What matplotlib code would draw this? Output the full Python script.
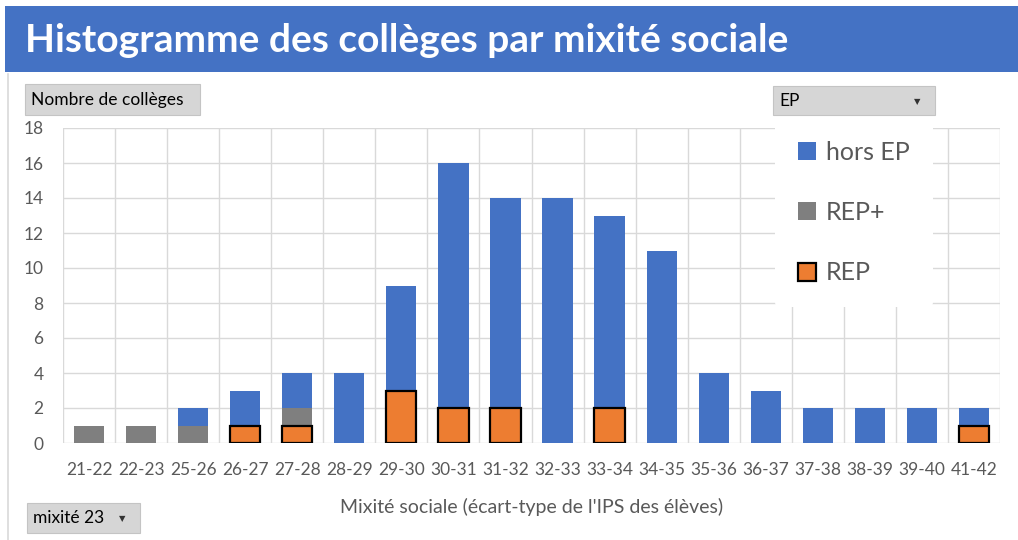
import matplotlib.pyplot as plt
import numpy as np
from matplotlib.patches import Rectangle

# Data
categories = ['21-22', '22-23', '25-26', '26-27', '27-28', '28-29', '29-30', '30-31', '31-32',
              '32-33', '33-34', '34-35', '35-36', '36-37', '37-38', '38-39', '39-40', '41-42']
rep = [0, 0, 0, 1, 1, 0, 3, 2, 2, 0, 2, 0, 0, 0, 0, 0, 0, 1]
rep_plus = [1, 1, 1, 0, 1, 0, 0, 0, 0, 0, 0, 0, 0, 0, 0, 0, 0, 0]
hors_ep = [0, 0, 1, 2, 2, 4, 6, 14, 12, 14, 11, 11, 4, 3, 2, 2, 2, 1]

BLUE = '#4472C4'
GRAY = '#7F7F7F'
ORANGE = '#ED7D31'
TXT = '#595959'
FONT = ['Lato', 'DejaVu Sans']

plt.rcParams['font.family'] = FONT

W, H = 1018, 540
fig = plt.figure(figsize=(W / 100, H / 100), dpi=100)


def fx(px):
    return px / W


def fy(py):
    return 1 - py / H


# title banner
fig.patches.append(Rectangle((fx(5), fy(72)), fx(1013), 66 / H, transform=fig.transFigure,
                             facecolor=BLUE, edgecolor='none'))
fig.text(fx(25), fy(40), 'Histogramme des collèges par mixité sociale', color='white',
         fontsize=28, fontweight='bold', va='center', ha='left')

# light frame at the left of the chart area
fig.add_artist(plt.Line2D([fx(8), fx(8)], [fy(74), fy(540)], transform=fig.transFigure,
                          color='#d9d9d9', lw=1.2))

# main axes
ax = fig.add_axes([fx(63), fy(443), (1000 - 63) / W, (443 - 128) / H])
x = np.arange(len(categories))
width = 0.58
rep = np.array(rep)
rep_plus = np.array(rep_plus)
hors_ep = np.array(hors_ep)

b_rep = ax.bar(x, rep, width, color=ORANGE, edgecolor='black', linewidth=1.6, zorder=3)
for patch, v in zip(b_rep, rep):
    if v == 0:
        patch.set_visible(False)
b_plus = ax.bar(x, rep_plus, width, bottom=rep, color=GRAY, zorder=2)
b_hors = ax.bar(x, hors_ep, width, bottom=rep + rep_plus, color=BLUE, zorder=2)

ax.set_xlim(-0.5, len(categories) - 0.5)
ax.set_ylim(0, 18)
ax.set_yticks(np.arange(0, 19, 2))
ax.set_xticks(x)
ax.set_xticklabels(categories)
ax.set_xticks(np.arange(-0.5, len(categories), 1), minor=True)
ax.grid(True, which='minor', axis='x', color='#d9d9d9', lw=1, zorder=0)
ax.grid(True, which='major', axis='y', color='#d9d9d9', lw=1, zorder=0)
ax.set_axisbelow(True)
for s in ax.spines.values():
    s.set_visible(False)
ax.tick_params(axis='both', which='both', length=0, colors=TXT, labelsize=12.5)
ax.tick_params(axis='y', pad=14)
ax.tick_params(axis='x', pad=14)
ax.set_xlabel("Mixité sociale (écart-type de l'IPS des élèves)", color=TXT, fontsize=14, labelpad=14)

h_hors = Rectangle((0, 0), 1, 1, facecolor=BLUE, edgecolor='none')
h_plus = Rectangle((0, 0), 1, 1, facecolor=GRAY, edgecolor='none')
h_rep = Rectangle((0, 0), 1, 1, facecolor=ORANGE, edgecolor='black', linewidth=1.6)
leg = fig.legend([h_hors, h_plus, h_rep], ['hors EP', 'REP+', 'REP'], loc='upper left',
                 bbox_to_anchor=(fx(775), fy(118)), frameon=True, fontsize=18,
                 labelspacing=1.5, handlelength=0.75, handleheight=0.75, handletextpad=0.4,
                 borderpad=0.9, borderaxespad=0)
leg.get_frame().set_facecolor('white')
leg.get_frame().set_edgecolor('none')
leg.get_frame().set_alpha(1)
for t in leg.get_texts():
    t.set_color(TXT)


# field buttons
def button(x0, y0, x1, y1, label, arrow=False):
    fig.patches.append(Rectangle((fx(x0), fy(y1)), fx(x1 - x0), (y1 - y0) / H,
                                 transform=fig.transFigure, facecolor='#d6d6d6',
                                 edgecolor='#c4c4c4', lw=0.8, zorder=5))
    fig.text(fx(x0 + 6), fy((y0 + y1) / 2), label, fontsize=12.5, color='black',
             va='center', ha='left', zorder=6)
    if arrow:
        fig.text(fx(x1 - 18), fy((y0 + y1) / 2 + 1), '▼', fontsize=6, color='#333333',
                 va='center', ha='center', family='DejaVu Sans', zorder=6)


button(25, 84, 200, 115, 'Nombre de collèges')
button(773, 86, 935, 115, 'EP', arrow=True)
button(27, 503, 140, 533, 'mixité 23', arrow=True)

fig.savefig('out.png', dpi=100)
